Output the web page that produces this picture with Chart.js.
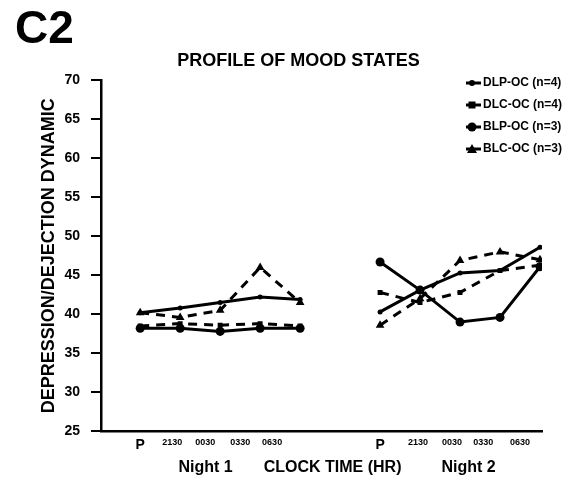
<!DOCTYPE html>
<html>
<head>
<meta charset="utf-8">
<script src="https://cdn.jsdelivr.net/npm/chart.js@4.4.0/dist/chart.umd.min.js"></script>
<style>
  html, body { margin: 0; padding: 0; background: #fff; }
</style>
</head>
<body>
<canvas id="chart" width="569" height="481"></canvas>
<script>
// clock times, same for both nights
const timeLabels = ['P', '2130', '0030', '0330', '0630'];
const xNight1 = [0, 1, 2, 3, 4];
const xNight2 = [6, 7, 8, 9, 10];
// the printed time labels do not sit exactly under the points
const xTickValues = [0, 0.8, 1.63, 2.5, 3.3, 6, 6.95, 7.8, 8.58, 9.5];
const xTickLabels = timeLabels.concat(timeLabels);

const seriesNames = ['DLP-OC (n=4)', 'DLC-OC (n=4)', 'BLP-OC (n=3)', 'BLC-OC (n=3)'];
// night 1 then night 2
const dlpOc = [40.2, 40.8, 41.5, 42.2, 41.9, 40.3, 43.1, 45.3, 45.6, 48.6];
const dlcOc = [38.5, 38.8, 38.6, 38.8, 38.5, 42.8, 41.5, 42.8, 45.6, 46.3];
const blpOc = [38.2, 38.2, 37.8, 38.2, 38.2, 46.7, 43.1, 39.0, 39.6, 46.1];
const blcOc = [40.2, 39.6, 40.5, 46.0, 41.5, 38.6, 42.0, 46.9, 48.0, 47.0];

const yTitle = 'DEPRESSION/DEJECTION DYNAMIC';
const xTitle = '       Night 1       CLOCK TIME (HR)         Night 2';
const figTitle = 'C2';
const chartTitle = '        PROFILE OF MOOD STATES';

Chart.defaults.font.family = '"Liberation Sans", Arial, sans-serif';
Chart.defaults.color = '#000';

function toPoints(values) {
  const pts = [];
  xNight1.forEach((x, i) => pts.push({ x: x, y: values[i] }));
  pts.push({ x: 5, y: null });
  xNight2.forEach((x, i) => pts.push({ x: x, y: values[i + 5] }));
  return pts;
}

const styles = [
  { dash: [], point: 'circle', r: 2.5 },
  { dash: [9, 7], point: 'rect', r: 3.5 },
  { dash: [], point: 'circle', r: 4.5 },
  { dash: [9, 7], point: 'triangle', r: 5 }
];

const datasets = [dlpOc, dlcOc, blpOc, blcOc].map((vals, i) => ({
  label: seriesNames[i],
  data: toPoints(vals),
  borderColor: '#000',
  backgroundColor: '#000',
  borderWidth: 3,
  borderDash: styles[i].dash,
  pointStyle: styles[i].point,
  pointRadius: styles[i].r,
  pointBorderWidth: 0,
  tension: 0,
  spanGaps: false
}));

function drawMarker(ctx, style, x, y, r) {
  ctx.beginPath();
  if (style === 'rect') {
    ctx.rect(x - r, y - r, 2 * r, 2 * r);
  } else if (style === 'triangle') {
    ctx.moveTo(x, y - r);
    ctx.lineTo(x + r, y + r * 0.8);
    ctx.lineTo(x - r, y + r * 0.8);
    ctx.closePath();
  } else {
    ctx.arc(x, y, r, 0, Math.PI * 2);
  }
  ctx.fill();
}

// legend drawn in the top right corner, over the plot area
const cornerLegend = {
  id: 'cornerLegend',
  afterDraw(chart) {
    const ctx = chart.ctx;
    ctx.save();
    ctx.fillStyle = '#000';
    ctx.strokeStyle = '#000';
    ctx.font = 'bold 12px "Liberation Sans", Arial, sans-serif';
    ctx.textBaseline = 'middle';
    chart.data.datasets.forEach((ds, i) => {
      const y = 83 + i * 22;
      ctx.lineWidth = 3;
      ctx.beginPath();
      ctx.moveTo(466, y);
      ctx.lineTo(481, y);
      ctx.stroke();
      drawMarker(ctx, ds.pointStyle, 472, y, Math.max(ds.pointRadius, 3));
      ctx.fillText(ds.label, 483, y);
    });
    ctx.restore();
  }
};

new Chart(document.getElementById('chart'), {
  type: 'line',
  data: { datasets: datasets },
  options: {
    responsive: false,
    animation: false,
    layout: { padding: { left: 15, right: 27, top: 0, bottom: 1 } },
    plugins: {
      legend: { display: false },
      tooltip: { enabled: false },
      title: {
        display: true,
        text: figTitle,
        align: 'start',
        font: { size: 46, weight: 'bold', lineHeight: 0.8 },
        padding: { top: 12, bottom: 0 }
      },
      subtitle: {
        display: true,
        text: chartTitle,
        font: { size: 18, weight: 'bold' },
        padding: { top: 1, bottom: 9 }
      }
    },
    scales: {
      x: {
        type: 'linear',
        min: -0.98,
        max: 10.05,
        afterBuildTicks: (scale) => {
          scale.ticks = xTickValues.map(v => ({ value: v }));
        },
        ticks: {
          autoSkip: false,
          maxRotation: 0,
          padding: 6,
          callback: (value, index) => xTickLabels[index],
          font: (ctx) => xTickLabels[ctx.index] === 'P'
            ? { size: 14, weight: 'bold' }
            : { size: 9, weight: 'bold' }
        },
        grid: { display: false, drawTicks: false },
        border: { display: true, color: '#000', width: 2.5 },
        title: {
          display: true,
          text: xTitle,
          font: { size: 16, weight: 'bold', lineHeight: 1 },
          padding: { top: 0, bottom: 4 }
        }
      },
      y: {
        min: 25,
        max: 70,
        ticks: {
          stepSize: 5,
          padding: 11,
          font: { size: 14, weight: 'bold' }
        },
        grid: {
          display: true,
          drawOnChartArea: false,
          drawTicks: true,
          tickLength: 10,
          color: '#000',
          lineWidth: 2
        },
        border: { display: true, color: '#000', width: 2.5 },
        title: {
          display: true,
          text: yTitle,
          font: { size: 18, weight: 'bold' },
          padding: { top: 23, bottom: 4 }
        },
        afterFit: (scale) => {
          scale.width = 86;
        }
      }
    }
  },
  plugins: [cornerLegend]
});
</script>
</body>
</html>
